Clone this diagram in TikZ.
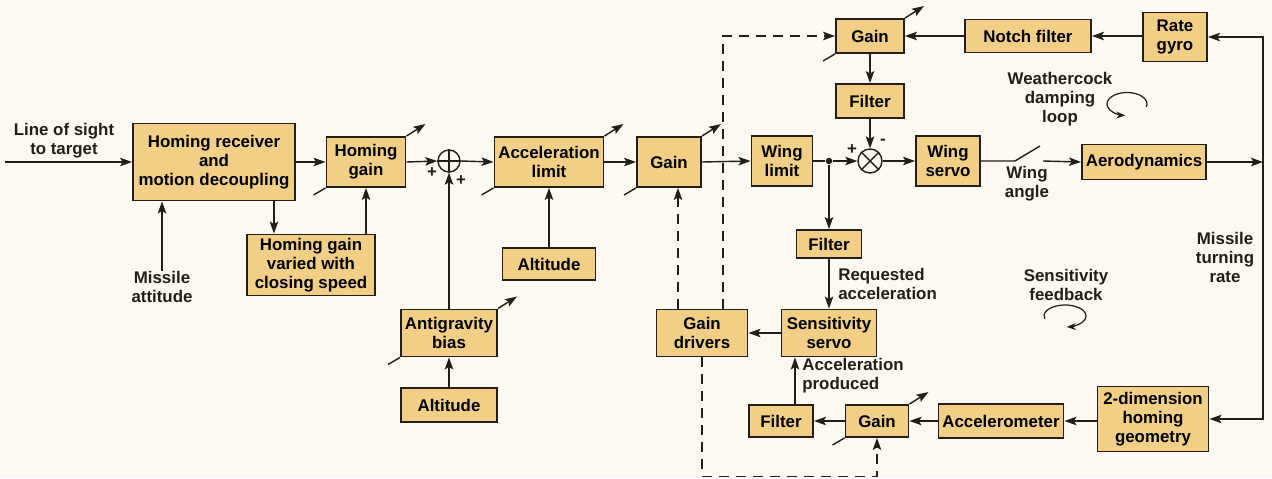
\documentclass[tikz,border=0pt]{standalone}
\usepackage{fontspec}
\setmainfont{Liberation Sans}
\usepackage{tikz}
\usetikzlibrary{arrows.meta,positioning,calc}
\definecolor{paper}{HTML}{FBF9F1}
\definecolor{tan}{HTML}{F2CF86}
\definecolor{edge}{HTML}{241E16}
\tikzset{
  blk/.style={rectangle, draw=edge, line width=1.1pt, fill=tan, align=center,
              inner sep=1pt, font=\bfseries\fontsize{9.6}{10.8}\selectfont},
  sz/.style 2 args={minimum width=#1*0.2mm, minimum height=#2*0.2mm},
  lbl/.style={align=center, inner sep=0pt, text=edge, font=\bfseries\fontsize{9.6}{10.8}\selectfont},
  sumc/.style={circle, draw=edge, line width=0.8pt, fill=paper, inner sep=0pt, minimum size=#1*0.2mm},
  jdot/.style={circle, fill=edge, inner sep=0pt, minimum size=1.3mm},
  arr/.style={-{Stealth[length=2.4mm, width=1.7mm, inset=0.5mm]}, line width=0.8pt, draw=edge},
  darr/.style={arr, dash pattern=on 2mm off 1.4mm},
  loopar/.style={-{Stealth[length=1.8mm, width=1.4mm]}, line width=0.7pt, draw=edge},
  plain/.style={line width=0.8pt, draw=edge},
}
\begin{document}
\begin{tikzpicture}[x=0.2mm, y=-0.2mm]
  \fill[paper] (0,0) rectangle (1272,478);
  \useasboundingbox (0,0) rectangle (1272,478);
  % variable gain arrows, behind the boxes
  \node[blk, sz={79}{50}] (hg) at (366,162) {Homing\\gain};
  \node[blk, sz={109}{50}] (al) at (549,162) {Acceleration\\limit};
  \node[blk, sz={64}{50}] (g1) at (669,162) {Gain};
  \node[blk, sz={96}{47}] (ab) at (449,333) {Antigravity\\bias};
  \node[blk, sz={68}{34}] (gt) at (870,36) {Gain};
  \node[blk, sz={63}{32}] (gb) at (877,421) {Gain};
  \foreach \n in {hg,al,g1,ab,gt,gb}{
    \draw[plain] (\n.south west) -- ++(-12,7);
    \draw[arr] (\n.north east) -- ++(19,-12);
  }

  \node[blk, sz={162}{77}] (hr) at (214,162) {Homing receiver\\and\\motion decoupling};
  \node[blk, sz={128}{61}] (hgv) at (311,265) {Homing gain\\varied with\\closing speed};
  \node[sumc=22] (sum) at (449,161) {};
  \node[blk, sz={93}{32}] (alt1) at (549,264) {Altitude};
  \node[blk, sz={96}{34}] (alt2) at (449,405) {Altitude};
  \node[blk, sz={91}{47}] (gd) at (702,333) {Gain\\drivers};
  \node[blk, sz={95}{47}] (ss) at (829,333) {Sensitivity\\servo};
  \node[blk, sz={65}{28}] (fm) at (829,244) {Filter};
  \node[blk, sz={64}{32}] (fb) at (781,421) {Filter};
  \node[blk, sz={125}{34}] (acc) at (1001,421) {Accelerometer};
  \node[blk, sz={111}{65}] (geo) at (1153,419) {2-dimension\\homing\\geometry};
  \node[blk, sz={61}{50}] (wl) at (782,161) {Wing\\limit};
  \node[jdot] (jn) at (829,161) {};
  \node[sumc=24] (cr) at (870,161) {};
  \node[blk, sz={64}{50}] (ws) at (948,161) {Wing\\servo};
  \node[blk, sz={124}{35}] (aero) at (1144,162) {Aerodynamics};
  \node[blk, sz={64}{49}] (rg) at (1175,37) {Rate\\gyro};
  \node[blk, sz={126}{33}] (nf) at (1028,36) {Notch filter};
  \node[blk, sz={68}{34}] (ft) at (870,101) {Filter};

  \draw[plain] (sum.north) -- (sum.south) (sum.west) -- (sum.east);
  \draw[plain] (cr.north west) -- (cr.south east) (cr.north east) -- (cr.south west);

  \node[lbl] (los) at (64,141) {Line of sight\\to target};
  \node[lbl] (ma) at (162,287) {Missile\\attitude};
  \node[lbl] (wa) at (1027,184) {Wing\\angle};
  \node[lbl] (mtr) at (1225,257) {Missile\\turning\\rate};
  \node[lbl] (wdl) at (1060,99) {Weathercock\\damping\\loop};
  \node[lbl] (sf) at (1066,285) {Sensitivity\\feedback};
  \node[lbl, align=left, anchor=west] (ra) at (838,284) {Requested\\acceleration};
  \node[lbl, align=left, anchor=west] (ap) at (802,376) {Acceleration\\produced};
  \node[lbl] (p1) at (432,173) {+};
  \node[lbl] (p2) at (461,181) {+};
  \node[lbl] (p3) at (852,150) {+};
  \node[lbl] (m1) at (883,142) {-};

  \coordinate (src) at (5,162);
  \coordinate (fbk) at (1263,162);
  \coordinate (sw1) at (1015,161);
  \coordinate (sw2) at (1040,146);
  \coordinate (sw3) at (1043,161);
  \coordinate (hd) at ($(hr.south east)+(-22,0)$);
  \coordinate (fu) at ($(fb.north)+(14,0)$);
  \coordinate (da) at ($(gd.north)+(-24,0)$);
  \coordinate (db) at ($(gd.north)+(21,0)$);
  \coordinate (wlp) at (1127,104);
  \coordinate (slp) at (1065,316);

  \draw[arr] (src) -- (hr.west);
  \draw[arr] (hr.east) -- (hg.west);
  \draw[arr] (hd) -- (hd |- hgv.north);
  \draw[arr] (hg.south |- hgv.north) -- (hg.south);
  \draw[arr] (ma.north) -- (ma.north |- hr.south);
  \draw[arr] (hg.east) -- (sum.west);
  \draw[arr] (sum.east) -- (al.west);
  \draw[arr] (ab.north) -- (sum.south);
  \draw[arr] (alt1.north) -- (al.south);
  \draw[arr] (alt2.north) -- (ab.south);
  \draw[arr] (al.east) -- (g1.west);
  \draw[arr] (g1.east) -- (wl.west);
  \draw[plain] (wl.east) -- (jn);
  \draw[arr] (jn) -- (cr.west);
  \draw[arr] (jn) -- (fm.north);
  \draw[arr] (fm.south) -- (ss.north);
  \draw[arr] (cr.east) -- (ws.west);
  \draw[arr] (ft.south) -- (cr.north);
  \draw[arr] (gt.south) -- (ft.north);
  \draw[arr] (nf.west) -- (gt.east);
  \draw[arr] (rg.west |- nf.east) -- (nf.east);
  \draw[plain] (ws.east) -- (sw1) -- (sw2);
  \draw[arr] (sw3) -- (aero.west);
  \draw[arr] (aero.east) -- (fbk);
  \draw[arr] (fbk) |- (rg.east);
  \draw[arr] (fbk) |- (geo.east);
  \draw[arr] (geo.west |- acc.east) -- (acc.east);
  \draw[arr] (acc.west) -- (gb.east);
  \draw[arr] (gb.west) -- (fb.east);
  \draw[arr] (fu) -- (fu |- ss.south);
  \draw[arr] (ss.west) -- (gd.east);
  \draw[darr] (da) -- (da |- g1.south);
  \draw[darr] (db) |- (gt.west);
  \draw[darr] (gd.south) -- ++(0,119) -| (gb.south);

  \draw[loopar] (wlp) ++(-15:4mm and 2.3mm) arc[start angle=-15, end angle=265, x radius=4mm, y radius=2.3mm];
  \draw[loopar] (slp) ++(195:4.2mm and 2.2mm) arc[start angle=195, end angle=-85, x radius=4.2mm, y radius=2.2mm];
\end{tikzpicture}
\end{document}
